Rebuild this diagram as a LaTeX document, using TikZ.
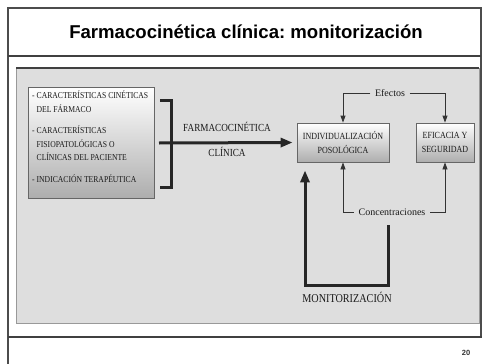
\documentclass[tikz,border=0pt]{standalone}
\usepackage{fontspec}
\setmainfont{Liberation Serif}
\newfontfamily\titlefont{Liberation Sans}
\newfontfamily\capsfont[FakeStretch=0.85]{Liberation Serif}
\usetikzlibrary{arrows.meta,calc,positioning}
\frenchspacing

\begin{document}
\begin{tikzpicture}[x=1pt, y=-1pt,
  caja/.style={draw=black!60, line width=0.8pt, top color=white, bottom color=black!32,
    align=center, inner sep=0pt, text=black!90, font=\capsfont\fontsize{9.4}{14}\selectfont},
  rotulo/.style={text=black!90, inner sep=4.5pt, font=\fontsize{10}{12}\selectfont},
  flecha/.style={draw=black!80, line width=0.8pt, -{Triangle[length=7pt,width=5pt]}},
  gruesa/.style={draw=black!85, line width=3pt},
  punta/.style={-{Triangle[length=12pt,width=9pt]}}]
  \useasboundingbox (0,0) rectangle (482,364);

  % marco de la diapositiva
  \draw[black!70, line width=1.2pt] (8,364) -- (8,8) -- (481,8) -- (481,337);
  \draw[black!75, line width=1.2pt] (8,56) -- (481,56);
  \draw[black!75, line width=1.5pt] (8,337) -- (482,337);
  \node[font=\titlefont\bfseries\fontsize{18.6}{20}\selectfont] (titulo) at (246,32)
    {Farmacocinética clínica: monitorización};
  \node[font=\titlefont\bfseries\fontsize{7.5}{9}\selectfont, text=black!80] (pagina) at (466,353) {20};

  % panel gris
  \draw[fill=black!13, draw=black!40, line width=1pt] (16,68) rectangle (479,323);
  \draw[black!75, line width=1.2pt] (16,68) -- (479,68);

  % factores de entrada
  \node[caja, minimum width=126pt, minimum height=111pt] (factores) at (91,142.5) {};
  \node[anchor=north west, align=left, inner sep=0pt, text=black!90,
    font=\capsfont\fontsize{9}{13.5}\selectfont] (factorestxt) at (32,91)
    {- CARACTERÍSTICAS CINÉTICAS\\\phantom{-\ }DEL FÁRMACO\\[8pt]
     - CARACTERÍSTICAS\\\phantom{-\ }FISIOPATOLÓGICAS O\\\phantom{-\ }CLÍNICAS DEL PACIENTE\\[8pt]
     - INDICACIÓN TERAPÉUTICA};

  % llave y flecha de farmacocinética
  \draw[gruesa] (160,100) -- (171,100) -- (171,187) -- (160,187);
  \node[caja, minimum width=92pt, minimum height=39pt] (indiv) at (343,142.5)
    {INDIVIDUALIZACIÓN\\POSOLÓGICA};
  \node[caja, minimum width=58pt, minimum height=39pt] (efic) at (445,142.5)
    {EFICACIA Y\\SEGURIDAD};
  \coordinate (llave) at (159,143);
  \draw[gruesa, punta, shorten >=4pt] (llave) -- (indiv.west);
  \node[rotulo, font=\capsfont\fontsize{10.8}{12}\selectfont] (fc) at (227,127) {FARMACOCINÉTICA};
  \node[rotulo, font=\capsfont\fontsize{10.8}{12}\selectfont] (clinica) at (227,152) {CLÍNICA};

  % efectos y concentraciones
  \node[rotulo] (efectos) at (390,93) {Efectos};
  \draw[flecha] (efectos.west) -| (indiv.north);
  \draw[flecha] (efectos.east) -| (efic.north);
  \node[rotulo] (conc) at (392,212) {Concentraciones};
  \draw[flecha] (conc.west) -| (indiv.south);
  \draw[flecha] (conc.east) -| (efic.south);

  % bucle de monitorización
  \coordinate (bucle) at (305,285);
  \draw[gruesa, punta, shorten >=8pt] ([xshift=-4pt, yshift=-5pt]conc.south) |- (bucle)
    -- (bucle |- indiv.south);
  \node[rotulo, font=\capsfont\fontsize{12}{14}\selectfont] (monit) at (347,297) {MONITORIZACIÓN};
\end{tikzpicture}
\end{document}
